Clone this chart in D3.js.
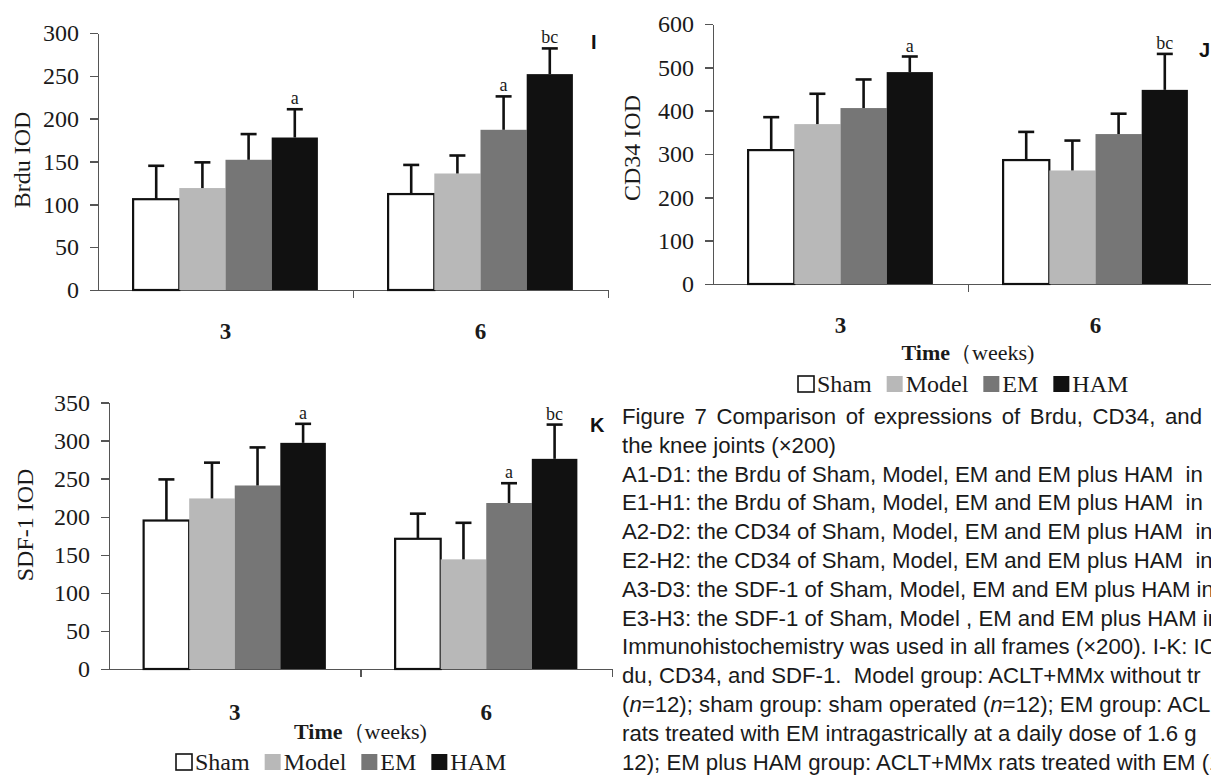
<!DOCTYPE html>
<html lang="en">
<head>
<meta charset="UTF-8"/>
<title>Figure 7</title>
<script src="https://d3js.org/d3.v7.min.js" charset="utf-8"></script>
<style>
  body { margin: 0; background: #fff; }
  svg { display: block; background: #fff; }
  .axis path, .axis line { fill: none; stroke: #555; stroke-width: 1.4px; shape-rendering: crispEdges; }
  .axis text { font-family: "Liberation Serif", "Times New Roman", serif; font-size: 24px; fill: #1a1a1a; }
  .serif { font-family: "Liberation Serif", "Times New Roman", serif; fill: #1a1a1a; }
  .caption { font-family: "Liberation Sans", Arial, sans-serif; font-size: 22.2px; fill: #1a1a1a; white-space: pre; }
  .tag { font-family: "Liberation Sans", Arial, sans-serif; font-weight: bold; font-size: 20px; fill: #111; }
</style>
</head>
<body>
<div id="chart"></div>
<script>
// groups (weeks) and treatment series
var groups = ["3", "6"];
var series = ["Sham", "Model", "EM", "HAM"];
var colors = ["#ffffff", "#b8b8b8", "#767676", "#111111"];

// Brdu IOD: means and SD, per week
var brduMean = [[106, 119, 152, 178], [112, 136, 187, 252]];
var brduSD = [[39, 30, 30, 33], [34, 21, 39, 30]];
var brduSig = [["", "", "", "a"], ["", "", "a", "bc"]];

// CD34 IOD
var cd34Mean = [[309, 369, 406, 489], [286, 262, 346, 448]];
var cd34SD = [[76, 70, 66, 36], [65, 69, 47, 83]];
var cd34Sig = [["", "", "", "a"], ["", "", "", "bc"]];

// SDF-1 IOD
var sdfMean = [[195, 224, 241, 297], [171, 144, 218, 276]];
var sdfSD = [[54, 47, 50, 25], [33, 48, 26, 45]];
var sdfSig = [["", "", "", "a"], ["", "", "a", "bc"]];

var captionLines = [
  "Figure 7 Comparison of expressions of Brdu, CD34, and",
  "the knee joints (\u00d7200)",
  "A1-D1: the Brdu of Sham, Model, EM and EM plus HAM  in",
  "E1-H1: the Brdu of Sham, Model, EM and EM plus HAM  in",
  "A2-D2: the CD34 of Sham, Model, EM and EM plus HAM  in",
  "E2-H2: the CD34 of Sham, Model, EM and EM plus HAM  in",
  "A3-D3: the SDF-1 of Sham, Model, EM and EM plus HAM in",
  "E3-H3: the SDF-1 of Sham, Model , EM and EM plus HAM in",
  "Immunohistochemistry was used in all frames (\u00d7200). I-K: IO",
  "du, CD34, and SDF-1.  Model group: ACLT+MMx without tr",
  "({n}=12); sham group: sham operated ({n}=12); EM group: ACL",
  "rats treated with EM intragastrically at a daily dose of 1.6 g",
  "12); EM plus HAM group: ACLT+MMx rats treated with EM (1"
];

var svg = d3.select("#chart").append("svg")
    .attr("width", 1211)
    .attr("height", 775);

var panels = [
  {mean: brduMean, sd: brduSD, sig: brduSig, yMax: 300, yStep: 50, yLabel: "Brdu IOD",
   x0: 98, x1: 608, y0: 290, y1: 33, labX: 22, labY: 160, tag: "I", tagX: 591, tagY: 49,
   catY: 339, timeY: null, legendX: null, legendY: null},
  {mean: cd34Mean, sd: cd34SD, sig: cd34Sig, yMax: 600, yStep: 100, yLabel: "CD34 IOD",
   x0: 713, x1: 1223, y0: 284, y1: 24, labX: 632, labY: 148, tag: "J", tagX: 1199, tagY: 57,
   catY: 333, timeY: 360, legendX: 797, legendY: 375},
  {mean: sdfMean, sd: sdfSD, sig: sdfSig, yMax: 350, yStep: 50, yLabel: "SDF-1 IOD",
   x0: 109, x1: 612, y0: 669, y1: 402.5, labX: 25, labY: 525, tag: "K", tagX: 590, tagY: 432,
   catY: 720, timeY: 739, legendX: 175, legendY: 753}
];

panels.forEach(function (p) {
  var g = svg.append("g");

  var y = d3.scaleLinear().domain([0, p.yMax]).range([p.y0, p.y1]);
  var x = d3.scaleBand().domain(groups).range([p.x0, p.x1]);
  var xs = d3.scaleBand().domain(series).range([0, x.bandwidth()]).paddingOuter(0.76);
  var xb = d3.scaleLinear().domain([0, groups.length]).range([p.x0, p.x1]);

  // x axis line with tick marks between groups
  g.append("g").attr("class", "axis")
      .attr("transform", "translate(0," + p.y0 + ")")
      .call(d3.axisBottom(xb).tickValues([1, 2]).tickSize(8).tickSizeOuter(0).tickFormat(""));

  // y axis
  g.append("g").attr("class", "axis")
      .attr("transform", "translate(" + p.x0 + ",0)")
      .call(d3.axisLeft(y).tickValues(d3.range(0, p.yMax + 1, p.yStep))
          .tickSize(8).tickSizeOuter(0).tickPadding(11));

  // group labels
  g.selectAll(".glab").data(groups).enter().append("text")
      .attr("class", "serif")
      .attr("x", function (d) { return x(d) + x.bandwidth() / 2; })
      .attr("y", p.catY)
      .attr("text-anchor", "middle")
      .style("font-size", "23px").style("font-weight", "bold")
      .text(function (d) { return d; });

  // flatten values
  var rows = [];
  groups.forEach(function (gr, i) {
    series.forEach(function (s, j) {
      rows.push({g: gr, s: s, j: j, v: p.mean[i][j], e: p.sd[i][j], sig: p.sig[i][j]});
    });
  });

  g.selectAll("rect.bar").data(rows).enter().append("rect")
      .attr("class", "bar")
      .attr("x", function (d) { return x(d.g) + xs(d.s); })
      .attr("y", function (d) { return y(d.v); })
      .attr("width", xs.bandwidth())
      .attr("height", function (d) { return p.y0 - y(d.v); })
      .attr("fill", function (d) { return colors[d.j]; })
      .attr("stroke", function (d) { return d.j === 0 ? "#111" : "none"; })
      .attr("stroke-width", 2.2);

  // error bars
  var cx = function (d) { return x(d.g) + xs(d.s) + xs.bandwidth() / 2; };
  g.selectAll("line.err").data(rows).enter().append("line")
      .attr("x1", cx).attr("x2", cx)
      .attr("y1", function (d) { return y(d.v); })
      .attr("y2", function (d) { return y(d.v + d.e); })
      .attr("stroke", "#111").attr("stroke-width", 2.6);
  g.selectAll("line.cap").data(rows).enter().append("line")
      .attr("x1", function (d) { return cx(d) - 8; })
      .attr("x2", function (d) { return cx(d) + 8; })
      .attr("y1", function (d) { return y(d.v + d.e); })
      .attr("y2", function (d) { return y(d.v + d.e); })
      .attr("stroke", "#111").attr("stroke-width", 2.6);

  // significance letters
  g.selectAll("text.sig").data(rows.filter(function (d) { return d.sig; })).enter().append("text")
      .attr("class", "serif")
      .attr("x", cx)
      .attr("y", function (d) { return y(d.v + d.e) - 5; })
      .attr("text-anchor", "middle")
      .style("font-size", "18px")
      .text(function (d) { return d.sig; });

  // y label
  g.append("text").attr("class", "serif")
      .attr("transform", "translate(" + p.labX + "," + p.labY + ") rotate(-90)")
      .attr("text-anchor", "middle")
      .attr("dy", "0.35em")
      .style("font-size", "24px")
      .text(p.yLabel);

  // panel letter
  g.append("text").attr("class", "tag")
      .attr("x", p.tagX).attr("y", p.tagY)
      .text(p.tag);

  if (p.legendX === null) return;

  // x title
  var t = g.append("text").attr("class", "serif")
      .attr("x", xb(1)).attr("y", p.timeY)
      .attr("text-anchor", "middle")
      .style("font-size", "22px");
  t.append("tspan").style("font-weight", "bold").text("Time");
  t.append("tspan").text("\uff08weeks)");

  // legend
  var lx = p.legendX, ly = p.legendY;
  series.forEach(function (s, j) {
    g.append("rect")
        .attr("x", lx + 1).attr("y", ly + 1)
        .attr("width", 16).attr("height", 16)
        .attr("fill", colors[j])
        .attr("stroke", j === 0 ? "#111" : "none")
        .attr("stroke-width", 1.6);
    var lt = g.append("text").attr("class", "serif")
        .attr("x", lx + 20).attr("y", ly + 17)
        .style("font-size", "24px")
        .text(s);
    lx += 20 + lt.node().getComputedTextLength() + 14;
  });
});

// caption
var cap = svg.append("g");
captionLines.forEach(function (line, i) {
  var t = cap.append("text").attr("class", "caption")
      .attr("x", 622).attr("y", 424 + i * 28.8);
  line.split(/(\{n\})/).forEach(function (part) {
    if (part === "{n}") t.append("tspan").style("font-style", "italic").text("n");
    else if (part) t.append("tspan").text(part);
  });
  if (i === 0) {
    // justified first line
    var w = t.node().getComputedTextLength();
    var gaps = line.split(" ").length - 1;
    t.style("word-spacing", ((1202 - 622 - w) / gaps) + "px");
  }
});
</script>
</body>
</html>
